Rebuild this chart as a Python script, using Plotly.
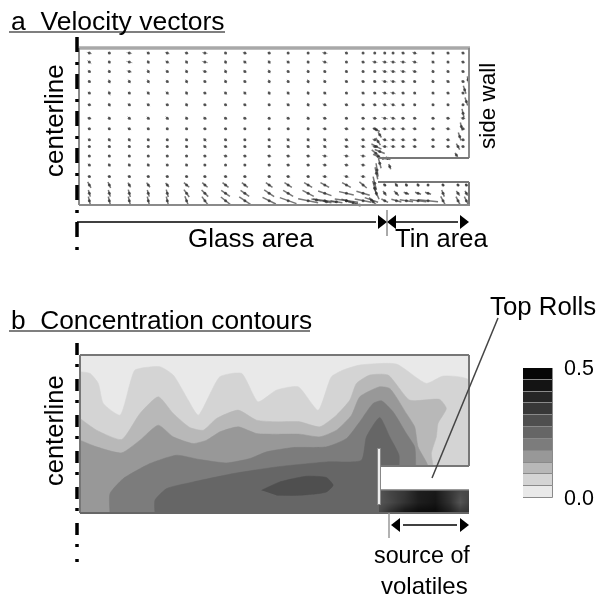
import plotly.graph_objects as go

FONT = "Liberation Sans"
W, H = 601, 600

# ---------- panel a : velocity field ----------
COLS = [88,148,208,265,322,380,435,497,555,628,685,745,795,860,910,945,975,1000,1030,1065,1120,1165,1210]
TIN_COLS = [975,1010,1040,1075,1105,1150,1195,1220]
ROWS_UP = [70,97,125,155,190,225,265,297,330,350]
ROWS_LOW = [378,405,440]
ROWS_TIN = [465,490,512]
U_UP = [
 [22,12,24,14,20,16,24,10,18,14,8,8,24,14,6,6,8,8,14,22,10,12,14],
 [18,6,26,8,18,10,26,6,16,10,14,6,24,10,14,24,24,24,26,24,12,8,16],
 [14,6,22,10,14,8,20,8,14,8,12,6,10,8,10,14,24,24,26,22,8,12,14],
 [12,6,10,10,12,8,12,8,12,6,10,6,12,14,14,14,26,26,20,12,8,16,14],
 [14,8,12,12,14,8,14,12,12,8,10,6,14,12,14,14,24,24,14,10,10,14,12],
 [16,8,14,12,14,8,14,14,14,8,14,8,20,16,16,18,22,22,14,10,10,10,8],
 [18,8,14,12,14,8,14,14,14,8,14,8,18,14,16,20,28,24,18,16,14,18,20],
 [14,8,16,12,10,10,14,14,10,6,12,6,20,20,18,20,24,22,22,20,18,20,18],
 [10,10,10,8,10,10,14,14,10,12,14,10,16,18,18,22,24,22,20,20,16,18,16],
 [12,12,10,8,10,12,16,16,12,14,16,14,18,22,22,26,26,22,20,20,18,18,14],
]
V_UP = [
 [6,4,4,8,6,4,4,8,6,4,8,4,4,8,4,4,6,6,6,6,8,6,6],
 [14,12,6,16,10,16,6,18,12,16,10,12,8,10,6,4,4,4,4,6,10,10,6],
 [10,14,6,18,10,16,6,18,10,16,12,14,12,12,8,6,6,6,6,6,14,10,6],
 [10,18,16,18,10,18,8,16,12,16,14,18,12,8,6,6,6,6,6,6,14,10,6],
 [8,20,8,16,14,18,6,14,14,16,14,16,10,8,8,6,6,6,6,10,10,6,6],
 [4,16,10,12,6,16,6,8,8,10,10,16,8,6,6,6,8,8,6,8,8,8,6],
 [4,14,14,14,16,14,10,10,8,10,8,14,6,6,4,4,6,8,4,4,4,4,4],
 [4,10,8,8,8,8,4,4,6,8,4,12,4,4,4,4,4,4,4,4,4,4,4],
 [10,16,16,12,8,12,16,10,8,8,14,14,14,8,6,6,6,4,4,4,4,4,4],
 [4,8,12,8,4,8,14,6,6,8,14,14,14,6,6,6,4,4,4,4,4,4,4],
]
U_LOW = [
 [10,10,10,10,12,12,14,18,16,18,18,18,24,24,24],
 [14,8,8,8,10,8,10,8,10,14,16,16,20,20,20],
 [14,14,14,14,14,14,14,16,16,16,18,16,22,24,22],
 [10,8,8,10,10,16,16,18,18,20,22,24,26,26,22],
 [6,6,6,6,6,16,20,26,26,30,30,34,40,44,40],
 [6,6,6,6,6,10,18,28,34,40,50,60,70,70,50],
]
V_LOW = [
 [4,6,6,4,4,4,4,4,4,4,4,4,4,4,4],
 [10,14,14,14,10,12,6,8,6,4,4,4,4,4,4],
 [4,4,6,4,4,4,4,4,4,4,4,4,4,6,4],
 [18,18,14,14,12,14,14,14,14,14,14,14,14,14,18],
 [20,20,22,20,22,22,20,18,18,20,18,18,14,10,12],
 [24,24,24,24,24,26,24,22,22,20,18,12,10,10,10],
]
U_TIN = [[8,8,6,6,4,6,6,6],[10,14,16,18,18,8,10,8],[20,30,40,50,60,14,12,12]]
V_TIN = [[6,10,8,8,4,6,6,6],[14,14,6,6,6,20,14,14],[10,8,6,6,6,26,24,24]]
# plume near the glass / tin junction, side wall and floor jets
EXTRA_X = [960,955,950,960,955,960,950,945,950,940,915,900,935,970,990,985,950,1225,1215,1220,1210,1205,1200,1195,1190,770,800,830,860,880,948,952,945]
EXTRA_Y = [315,335,350,365,380,400,430,460,490,515,535,525,510,385,410,385,300,150,180,215,250,290,320,350,375,510,515,515,512,518,370,420,475]
EXTRA_U = [10,14,30,30,30,8,8,10,16,24,30,30,40,30,6,14,20,4,8,8,6,6,8,10,8,30,30,36,30,30,24,6,12]
EXTRA_V = [16,22,16,12,14,30,36,40,36,24,10,8,14,6,16,8,10,20,24,24,26,24,24,18,12,6,6,6,8,6,20,40,44]

# ---------- panel b : concentration bands, upper edges ----------
B1_X = [60,90,115,130,180,210,225,300,340,385,415,480,545,595,650,715,775,815,850,900,1010,1100,1150,1228]
B1_Y = [95,100,130,190,225,130,90,80,105,180,225,110,100,185,150,140,210,110,90,75,72,130,108,120]
B2_X = [60,110,185,240,295,340,390,430,470,535,590,650,720,780,830,870,890,930,985,1050,1140,1160,1135,1130,1115,1120]
B2_Y = [235,270,298,220,170,220,262,270,235,210,240,245,245,260,225,180,130,105,105,180,178,205,250,290,340,378]
B3_X = [60,110,185,240,295,340,400,440,480,535,590,650,720,780,830,875,900,960,990,1040,1065,1075,1105]
B3_Y = [300,320,338,300,255,290,310,300,275,260,280,282,282,290,270,225,170,140,145,220,260,320,378]
B4_X = [150,150,190,270,350,420,500,570,620,700,800,860,900,940,965,1000,1040,1065,1068]
B4_Y = [518,460,415,370,345,358,368,355,335,322,320,295,245,190,182,215,280,320,378]
B5_X = [285,285,320,400,520,650,800,905,920,960,990,1018,1018]
B5_Y = [518,480,445,425,400,380,365,360,290,232,290,345,378]
B6_X = [605,660,740,800,820,800,720,650]
B6_Y = [450,425,408,412,435,455,465,465]
BAND_COLORS = ["#d4d4d4","#b8b8b8","#989898","#7c7c7c","#666666"]
BLOB_COLOR = "#4f4f4f"

TIN_X = [970,1000,1040,1080,1130,1170,1200,1225]
TIN_Y = [450,485,518]
TIN_Z = [[0.30,0.34,0.37,0.43,0.44,0.37,0.33,0.33],
         [0.30,0.33,0.38,0.43,0.45,0.38,0.30,0.35],
         [0.33,0.40,0.46,0.48,0.48,0.43,0.38,0.38]]

# ---------- colour key ----------
KEY_STEP = [0.045]*11
KEY_COLORS = ["#e9e9e9","#d4d4d4","#b8b8b8","#989898","#7c7c7c","#666666","#4f4f4f","#383838","#262626","#141414","#060606"]

def px(x): return x/W
def py(y): return 1-y/H

fig = go.Figure()

# velocity
def segs(xs, ys, us, vs, k):
    sx, sy = [], []
    for x, y, u, v in zip(xs, ys, us, vs):
        sx += [x-k*u/2, x+k*u/2, None]
        sy += [y-k*v/2, y+k*v/2, None]
    return sx, sy

vx, vy, vu, vv = [], [], [], []
for i, r in enumerate(ROWS_UP):
    for j, c in enumerate(COLS):
        vx.append(c); vy.append(r); vu.append(U_UP[i][j]); vv.append(V_UP[i][j])
for i, r in enumerate(ROWS_LOW):
    for j in range(15):
        vx.append(COLS[j]); vy.append(r); vu.append(U_LOW[i][j]); vv.append(V_LOW[i][j])
fx, fy, fu, fv = [], [], [], []
for i, r in enumerate(ROWS_TIN):
    for j in range(15):
        fx.append(COLS[j]); fy.append(r); fu.append(U_LOW[3+i][j]); fv.append(V_LOW[3+i][j])
    for j, c in enumerate(TIN_COLS):
        fx.append(c); fy.append(r); fu.append(U_TIN[i][j]); fv.append(V_TIN[i][j])
fx += EXTRA_X; fy += EXTRA_Y; fu += EXTRA_U; fv += EXTRA_V

sx, sy = segs(vx, vy, vu, vv, 0.7)
fig.add_trace(go.Scatter(x=sx, y=sy, mode="lines", line=dict(color="rgba(90,90,90,0.5)", width=1),
                         xaxis="x", yaxis="y", hoverinfo="skip", cliponaxis=False))
fig.add_trace(go.Scatter(x=vx, y=vy, mode="markers", marker=dict(color="rgba(50,50,50,0.8)", size=3),
                         xaxis="x", yaxis="y", hoverinfo="skip", cliponaxis=False))
sx, sy = segs(fx, fy, fu, fv, 1.0)
fig.add_trace(go.Scatter(x=sx, y=sy, mode="lines", line=dict(color="rgba(60,60,60,0.7)", width=1.5),
                         xaxis="x", yaxis="y", hoverinfo="skip", cliponaxis=False))
fig.add_trace(go.Scatter(x=fx, y=fy, mode="markers", marker=dict(color="rgba(40,40,40,0.7)", size=3),
                         xaxis="x", yaxis="y", hoverinfo="skip", cliponaxis=False))

# contour bands
BOT, TOP, L, R = 518, 45, 60, 1228
fig.add_trace(go.Scatter(x=[L,R,R,L], y=[TOP,TOP,BOT,BOT], fill="toself", fillcolor="#e9e9e9", mode="none",
                         xaxis="x2", yaxis="y2", hoverinfo="skip"))
bands = [(B1_X,B1_Y),(B2_X,B2_Y),(B3_X,B3_Y),(B4_X,B4_Y),(B5_X,B5_Y)]
SMOOTH = dict(shape="spline", smoothing=0.55)
for (bx, by), col in zip(bands, BAND_COLORS):
    cx = list(bx); cy = list(by)
    if cy[0] != BOT:
        cx = cx + [cx[-1], L]; cy = cy + [BOT, BOT]
    else:
        cx = cx + [cx[-1]]; cy = cy + [BOT]
    fig.add_trace(go.Scatter(x=cx, y=cy, fill="toself", fillcolor=col, mode="lines", line=dict(color=col, width=0.5, **SMOOTH),
                             xaxis="x2", yaxis="y2", hoverinfo="skip"))
fig.add_trace(go.Scatter(x=B6_X, y=B6_Y, fill="toself", fillcolor=BLOB_COLOR, mode="lines",
                         line=dict(color=BLOB_COLOR, width=0.5, **SMOOTH),
                         xaxis="x2", yaxis="y2", hoverinfo="skip"))

fig.add_trace(go.Heatmap(x=TIN_X, y=TIN_Y, z=TIN_Z, zmin=0, zmax=0.5, zsmooth="best", showscale=False,
                         colorscale=[[0,"#e9e9e9"],[0.5,"#6a6a6a"],[1,"#000000"]],
                         xaxis="x4", yaxis="y4", hoverinfo="skip"))

# key
fig.add_trace(go.Bar(x=[0]*len(KEY_STEP), y=KEY_STEP, marker=dict(color=KEY_COLORS, line=dict(color="#8a8a8a", width=1)),
                     width=1, base=[sum(KEY_STEP[:i]) for i in range(len(KEY_STEP))],
                     xaxis="x3", yaxis="y3", hoverinfo="skip"))

# marker arrows
def tri(xs, ys, syms):
    fig.add_trace(go.Scatter(x=xs, y=ys, mode="markers", marker=dict(color="black", size=12, symbol=syms),
                             xaxis="x5", yaxis="y5", hoverinfo="skip", cliponaxis=False))
tri([381,393,463,397,463], [222,222,222,525,525],
    ["triangle-right","triangle-left","triangle-right","triangle-left","triangle-right"])

def ax(dom_x, dom_y, rx, ry):
    a = dict(visible=False, fixedrange=True)
    return dict(a, domain=[px(dom_x[0]), px(dom_x[1])], range=rx), dict(a, domain=[py(dom_y[1]), py(dom_y[0])], range=ry)

xa, ya = ax((80,469),(48,205),[60,1228],[525,55])
xb, yb = ax((80,469),(355,513),[60,1228],[518,45])
xc, yc = ax((523,553),(368,498),[-0.5,0.5],[0,0.495])
xd, yd = ax((379,469),(490,513),[970,1225],[518,450])
xe, ye = ax((0,601),(0,600),[0,601],[600,0])

shapes = []
def line(x0,y0,x1,y1,color="#777777",width=2,dash=None):
    shapes.append(dict(type="line",xref="paper",yref="paper",x0=px(x0),y0=py(y0),x1=px(x1),y1=py(y1),
                       line=dict(color=color,width=width,dash=dash) if dash else dict(color=color,width=width),layer="above"))

# panel a frame
line(79,48,470,48,"#a8a8a8",3.5)
line(79,48,79,205,"#8a8a8a",2)
line(469,48,469,158,"#8a8a8a",2)
line(378,158,469,158,"#777777",2)
line(378,182,469,182,"#777777",2)
line(469,182,469,205,"#777777",2)
line(79,205,470,205,"#8a8a8a",2)
# panel a dimension lines
line(77,222,376,222,"black",1.4)
line(393,222,458,222,"black",1.4)
line(387,210,387,236,"#555555",1)
DASH = "15px,10px,3px,9px"
line(77,37,77,252,"black",3.5,DASH)
line(77,343,77,562,"black",3.5,"12px,9px,3px,12px")
# panel b frame
shapes.append(dict(type="rect",xref="paper",yref="paper",x0=px(379),x1=px(470),y0=py(466),y1=py(490),
                   fillcolor="white",line=dict(width=0),layer="above"))
line(80,355,469,355,"#777777",2)
line(80,355,80,513,"#777777",2)
line(469,355,469,466,"#777777",2)
line(379,466,469,466,"#777777",2)
line(379,490,469,490,"#777777",1.5)
line(80,513,469,513,"#666666",2)
line(379,448,379,505,"#888888",4)
line(379,449,379,504,"#eeeeee",2)
# leader and source bracket
line(498,318,432,478,"#444444",1.5)
line(389,513,389,538,"#999999",1.5)
line(403,525,457,525,"black",1.4)
# title underlines
line(9,32,225,32,"black",1.2)
line(9,331,310,331,"black",1.2)

ann = []
def text(t,x,y,size,anchor="left",rot=0,color="#000000"):
    ann.append(dict(text=t,xref="paper",yref="paper",x=px(x),y=py(y),xanchor=anchor,yanchor="middle",showarrow=False,
                    textangle=rot,font=dict(family=FONT,size=size,color=color)))
text("a\u00a0\u00a0Velocity vectors",9,21,26.5)
text("b\u00a0\u00a0Concentration contours",9,320,26.3)
text("Glass area",251,238,26,"center")
text("Tin area",441,238,25.5,"center")
text("centerline",54,121,26,"center",-90)
text("side wall",488,106,22.5,"center",-90)
text("centerline",54,431,25.5,"center",-90)
text("Top Rolls",543,306,25.8,"center")
text("source of",422,555,23.3,"center")
text("volatiles",424,585,24,"center")
text("0.5",562,368,21.5)
text("0.0",562,498,21.5)

fig.update_layout(width=W,height=H,margin=dict(l=0,r=0,t=0,b=0),autosize=False,
                  paper_bgcolor="white",plot_bgcolor="rgba(0,0,0,0)",showlegend=False,
                  xaxis=xa,yaxis=ya,
                  xaxis2=dict(xb,anchor="y2"),yaxis2=dict(yb,anchor="x2"),
                  xaxis3=dict(xc,anchor="y3"),yaxis3=dict(yc,anchor="x3"),
                  xaxis4=dict(xd,anchor="y4"),yaxis4=dict(yd,anchor="x4"),
                  xaxis5=dict(xe,anchor="y5"),yaxis5=dict(ye,anchor="x5"),
                  bargap=0,shapes=shapes,annotations=ann)

POST = """
document.documentElement.style.margin='0';document.documentElement.style.overflow='hidden';
document.body.style.margin='0';document.body.style.overflow='hidden';
document.querySelectorAll('.main-svg').forEach(function(s){s.style.filter='blur(0.6px)';});
"""
fig.write_html("out.html", config=dict(displayModeBar=False), post_script=POST)
